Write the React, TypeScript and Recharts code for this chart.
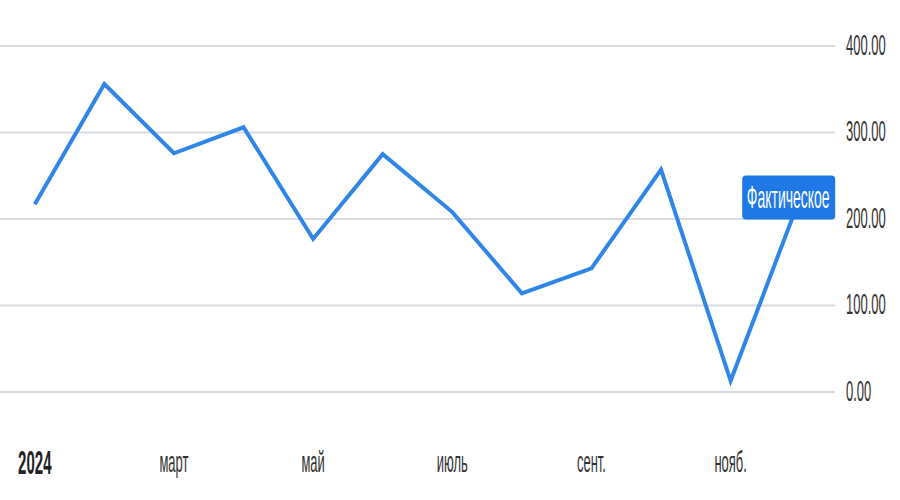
import React from "react";
import { LineChart, Line, XAxis, YAxis, CartesianGrid, LabelList } from "recharts";

const MONTHS = ["янв.", "февр.", "март", "апр.", "май", "июнь", "июль", "авг.", "сент.", "окт.", "нояб.", "дек."];
const ACTUAL = [217, 356, 276, 306, 177, 275, 208, 114, 143, 257, 13, 225];
const X_TICKS = [0, 2, 4, 6, 8, 10];
const X_TICK_LABELS = ["2024", "март", "май", "июль", "сент.", "нояб."];
const Y_TICKS = [0, 100, 200, 300, 400];
const SERIES_NAME = "Фактическое";

const data = MONTHS.map((m, i) => ({ i, month: m, value: ACTUAL[i] }));

const FONT = "'Liberation Sans', Arial, sans-serif";
const STRETCH = 2.25;

function XTick(props: any) {
  const { x, y, payload } = props;
  const idx = X_TICKS.indexOf(payload.value);
  const first = idx === 0;
  return (
    <g transform={`translate(${x},${462}) scale(1,${STRETCH})`}>
      <text
        x={0}
        y={0}
        textAnchor="middle"
        dominantBaseline="central"
        fontFamily={FONT}
        fontSize={first ? 15 : 13}
        fontWeight={first ? 700 : 400}
        fill={first ? "#222" : "#333"}
      >
        {X_TICK_LABELS[idx]}
      </text>
    </g>
  );
}

function YTick(props: any) {
  const { y, payload } = props;
  return (
    <g transform={`translate(846,${y - 1}) scale(1,${STRETCH})`}>
      <text x={0} y={0} textAnchor="start" dominantBaseline="central" fontFamily={FONT} fontSize={13} fill="#333">
        {payload.value.toFixed(2)}
      </text>
    </g>
  );
}

function EndLabel(props: any) {
  const { x, y, index } = props;
  if (index !== ACTUAL.length - 1) return null;
  return (
    <g>
      <rect x={x - 58} y={y - 22} width={93} height={44} rx={4} fill="#1f78e6" />
      <g transform={`translate(${x - 12},${y}) scale(1,${STRETCH})`}>
        <text x={0} y={0} textAnchor="middle" dominantBaseline="central" fontFamily={FONT} fontSize={14} fill="#fff">
          {SERIES_NAME}
        </text>
      </g>
    </g>
  );
}

export default function App() {
  return (
    <div style={{ position: "absolute", left: 0, top: 0, background: "#fff" }}>
      <LineChart width={900} height={500} data={data} margin={{ top: 46, right: 0, bottom: 0, left: 0 }}>
        <CartesianGrid vertical={false} stroke="#d9dcde" strokeWidth={2} />
        <XAxis
          dataKey="i"
          type="number"
          domain={[-0.5, 11.5]}
          ticks={X_TICKS}
          height={108}
          axisLine={false}
          tickLine={false}
          tick={<XTick />}
        />
        <YAxis
          orientation="right"
          domain={[0, 400]}
          ticks={Y_TICKS}
          width={65}
          axisLine={false}
          tickLine={false}
          tick={<YTick />}
        />
        <Line
          type="linear"
          dataKey="value"
          stroke="#2f86e7"
          strokeWidth={4}
          dot={false}
          isAnimationActive={false}
        >
          <LabelList dataKey="value" content={<EndLabel />} />
        </Line>
      </LineChart>
    </div>
  );
}
